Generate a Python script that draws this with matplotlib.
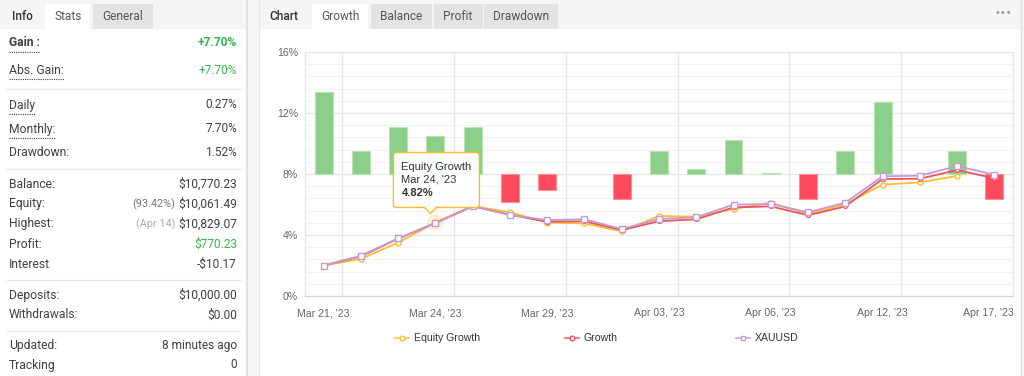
import matplotlib
matplotlib.use("Agg")
import matplotlib.pyplot as plt
import numpy as np
from matplotlib.patches import Rectangle, FancyBboxPatch, Polygon
from matplotlib.transforms import ScaledTranslation

W, H = 1024, 376

# chart data (percent)
days = ["Mar 21, '23", "Mar 22, '23", "Mar 23, '23", "Mar 24, '23", "Mar 27, '23",
        "Mar 28, '23", "Mar 29, '23", "Mar 30, '23", "Mar 31, '23", "Apr 03, '23",
        "Apr 04, '23", "Apr 05, '23", "Apr 06, '23", "Apr 10, '23", "Apr 11, '23",
        "Apr 12, '23", "Apr 13, '23", "Apr 14, '23", "Apr 17, '23"]
daily_gain = [5.36, 1.54, 3.10, 2.49, 3.10, -1.82, -1.05, 0.0, -1.66, 1.54,
              0.31, 2.23, 0.08, -1.66, 1.54, 4.72, 0.0, 1.54, -1.66]
equity_growth = [2.00, 2.43, 3.50, 4.82, 5.90, 5.49, 4.81, 4.76, 4.24, 5.25,
                 5.20, 5.70, 6.12, 5.38, 6.03, 7.30, 7.45, 7.87, np.nan]
growth = [2.00, 2.60, 3.76, 4.79, 5.88, 5.33, 4.87, 4.90, 4.33, 4.90,
          5.03, 5.81, 5.88, 5.29, 5.88, 7.67, 7.69, 8.26, 7.72]
xauusd = [2.00, 2.64, 3.78, 4.77, 5.90, 5.31, 4.98, 5.03, 4.39, 5.05,
          5.16, 5.99, 6.03, 5.49, 6.12, 7.85, 7.89, 8.52, 7.96]
y_ticks = [0, 4, 8, 12, 16]
x_tick_idx = [0, 3, 6, 9, 12, 15, 18]
tooltip_idx = 3

# stats panel
stat_labels = ["Gain :", "Abs. Gain:", "Daily", "Monthly:", "Drawdown:", "Balance:",
               "Equity:", "Highest:", "Profit:", "Interest", "Deposits:", "Withdrawals:",
               "Updated:", "Tracking"]
stat_values = ["+7.70%", "+7.70%", "0.27%", "7.70%", "1.52%", "$10,770.23",
               "$10,061.49", "$10,829.07", "$770.23", "-$10.17", "$10,000.00", "$0.00",
               "8 minutes ago", "0"]
stat_notes = ["", "", "", "", "", "", "(93.42%)", "(Apr 14)", "", "", "", "", "", ""]
left_tabs = ["Info", "Stats", "General"]
right_tabs = ["Chart", "Growth", "Balance", "Profit", "Drawdown"]

# layout (pixels)
ROW_Y = [43, 70, 105, 129, 153, 184, 204, 224, 244, 264, 295, 315, 345, 365]
SEP_Y = [89, 169, 280, 331]
UNDERLINED = [0, 1, 2, 3]
BAR_BASE = 8.0

UI_FONT = ["Roboto", "DejaVu Sans"]
CHART_FONT = ["Liberation Sans", "DejaVu Sans"]
GREEN = "#34b54a"
TEXT = "#404040"

fig = plt.figure(figsize=(W / 100, H / 100), dpi=100)
fig.patch.set_facecolor("white")


def pixel_axes(zorder):
    a = fig.add_axes([0, 0, 1, 1], zorder=zorder)
    a.set_xlim(0, W)
    a.set_ylim(H, 0)
    a.axis("off")
    a.patch.set_alpha(0)
    return a


bg = pixel_axes(0)

# card frames
bg.add_patch(Rectangle((246, 0), 13, H, fc="#f6f6f6", ec="none"))
bg.plot([246.5, 246.5], [0, H], color="#dcdcdc", lw=1.2)
bg.plot([259, 259], [0, H], color="#e8e8e8", lw=0.8)
bg.add_patch(Rectangle((1021, 0), 3, H, fc="#f6f6f6", ec="none"))
bg.plot([1021, 1021], [0, H], color="#dcdcdc", lw=1.0)

# left tab bar
bg.add_patch(Rectangle((0, 0), 246, 29, fc="#f5f5f5", ec="none"))
bg.add_patch(Rectangle((45, 4), 45, 25, fc="white", ec="none"))
bg.add_patch(Rectangle((93, 4), 60, 25, fc="#e3e3e3", ec="none"))
for name, cx, col, wt in zip(left_tabs, [22, 68, 123], ["#333333", "#555555", "#555555"],
                             ["medium", "normal", "normal"]):
    bg.text(cx, 16, name, ha="center", va="center", fontsize=8.6, color=col,
            family=UI_FONT, fontweight=wt)

# right tab bar
bg.add_patch(Rectangle((260, 0), 761, 29, fc="#f5f5f5", ec="none"))
bg.add_patch(Rectangle((312, 4), 56, 25, fc="white", ec="none"))
for x0, w in [(371, 61), (434, 49), (484, 74)]:
    bg.add_patch(Rectangle((x0, 4), w, 25, fc="#e3e3e3", ec="none"))
for name, cx in zip(right_tabs, [284, 340, 401, 458, 521]):
    bg.text(cx, 16, name, ha="center", va="center", fontsize=8.6,
            color="#333333" if name == "Chart" else "#555555", family=UI_FONT,
            fontweight="medium" if name == "Chart" else "normal")
bg.text(1003, 13, "\u2022\u2022\u2022", ha="center", va="center", fontsize=7,
        color="#999999", family=["DejaVu Sans"])

# stats rows
for y in SEP_Y:
    bg.plot([7, 240], [y, y], color="#e6e6e6", lw=1)

renderer = fig.canvas.get_renderer()
for i, (lab, val, note) in enumerate(zip(stat_labels, stat_values, stat_notes)):
    y = ROW_Y[i]
    t = bg.text(9, y, lab, ha="left", va="center", fontsize=8.7, color=TEXT,
                family=UI_FONT, fontweight="bold" if i == 0 else "normal")
    vcol = GREEN if lab in ("Gain :", "Abs. Gain:", "Profit:") else TEXT
    v = bg.text(237, y, val, ha="right", va="center", fontsize=8.6, color=vcol,
                family=UI_FONT, fontweight="bold" if i == 0 else "normal")
    if note:
        vb = v.get_window_extent(renderer)
        bg.text(vb.x0 - 3, y, note, ha="right", va="center", fontsize=7.8,
                color="#777777" if note.startswith("(9") else "#aaaaaa", family=UI_FONT)
    if i in UNDERLINED:
        tb = t.get_window_extent(renderer)
        uy = H - tb.y0 + 2
        bg.plot([tb.x0, tb.x1], [uy, uy], color="#444444", lw=0.8, ls=(0, (1, 1)))

# chart
ax = fig.add_axes([305 / W, (H - 296) / H, 708 / W, 244 / H], zorder=1)
ax.patch.set_alpha(0)
x = np.arange(len(days))
ax.set_xlim(-0.5, len(days) - 0.5)
ax.set_ylim(0, 16)

for yv in np.arange(0, 16.01, 0.8):
    ax.axhline(yv, color="#f3f3f3", lw=0.8, zorder=0)
for yv in y_ticks[1:]:
    ax.axhline(yv, color="#e6e6e6", lw=0.9, zorder=0)
for xv in np.array(x_tick_idx) + 0.5:
    ax.axvline(xv, color="#e6e6e6", lw=0.9, zorder=0)

gain = np.array(daily_gain)
pos = gain > 0
neg = gain < 0
ax.bar(x[pos], gain[pos], bottom=BAR_BASE, width=0.48, color="#8bcf89",
       edgecolor="#b9e2b7", lw=0.8, zorder=1)
ax.bar(x[neg], gain[neg], bottom=BAR_BASE, width=0.48, color="#fd4a5c",
       edgecolor="#ff8c96", lw=0.8, zorder=1)

ax.plot(tooltip_idx, equity_growth[tooltip_idx], "o", ms=12, color="#fbd98a",
        alpha=0.4, mec="none", zorder=2)
ax.plot(x, equity_growth, color="#fbbf2d", lw=1.3, marker="o", ms=3.6,
        mfc="white", mec="#fbbf2d", mew=1.0, zorder=3)
ax.plot(x, growth, color="#f1525d", lw=1.3, marker="o", ms=2.8,
        mfc="white", mec="#f1525d", mew=0.9, zorder=4)
ax.plot(x, xauusd, color="#c49ad3", lw=1.3, marker="s", ms=3.8,
        mfc="white", mec="#c49ad3", mew=1.0, zorder=5)

ax.set_yticks(y_ticks)
ax.set_yticklabels([f"{v}%" for v in y_ticks])
ax.set_xticks(x_tick_idx)
ax.set_xticklabels([days[i] for i in x_tick_idx])
ax.tick_params(length=0, labelsize=7.6, labelcolor="#666666")
ax.tick_params(axis="x", pad=9)
ax.tick_params(axis="y", pad=5)
for lbl in ax.get_xticklabels() + ax.get_yticklabels():
    lbl.set_family(CHART_FONT)
last = ax.get_xticklabels()[-1]
last.set_transform(last.get_transform() + ScaledTranslation(-6 / 100, 0, fig.dpi_scale_trans))
ax.spines["top"].set_visible(False)
ax.spines["left"].set_color("#e6e6e6")
ax.spines["right"].set_color("#e6e6e6")
ax.spines["bottom"].set_color("#ccd6eb")
for s in ax.spines.values():
    s.set_linewidth(0.9)

# overlay: tooltip and legend
ov = pixel_axes(3)
dx, dy = ax.transData.transform((tooltip_idx, equity_growth[tooltip_idx]))
px, py = dx, H - dy
bx0, bx1, by0, by1 = px - 42, px + 44, py - 70, py - 15
ov.add_patch(FancyBboxPatch((bx0, by0), bx1 - bx0, by1 - by0,
                            boxstyle="round,pad=0,rounding_size=3",
                            fc="white", ec="#f7b924", lw=1.0, alpha=0.95))
tip = [(px - 11, by1 - 0.5), (px - 5, py - 9), (px + 1, by1 - 0.5)]
ov.add_patch(Polygon(tip, closed=True, fc="white", ec="none"))
ov.plot([tip[0][0], tip[1][0], tip[2][0]], [by1, tip[1][1], by1], color="#f7b924", lw=1.0)
ov.text(bx0 + 8, by0 + 15, "Equity Growth", fontsize=8, color="#333333", va="center",
        family=CHART_FONT)
ov.text(bx0 + 8, by0 + 27, days[tooltip_idx], fontsize=8, color="#333333", va="center",
        family=CHART_FONT)
ov.text(bx0 + 8, by0 + 41, f"{equity_growth[tooltip_idx]:.2f}%", fontsize=8,
        color="#333333", va="center", family=CHART_FONT, fontweight="bold")

legend = [("Equity Growth", "#fbbf2d", "o", 402),
          ("Growth", "#f1525d", "o", 572),
          ("XAUUSD", "#c49ad3", "s", 743)]
for name, col, mk, lx in legend:
    ov.plot([lx - 7, lx + 7], [338, 338], color=col, lw=1.3, alpha=0.8)
    ov.plot([lx], [338], marker=mk, ms=3.4, mfc="white", mec=col, mew=1.0)
    ov.text(lx + 12, 338, name, fontsize=7.6, color="#333333", va="center",
            family=CHART_FONT)

fig.savefig("out.png", dpi=100)
